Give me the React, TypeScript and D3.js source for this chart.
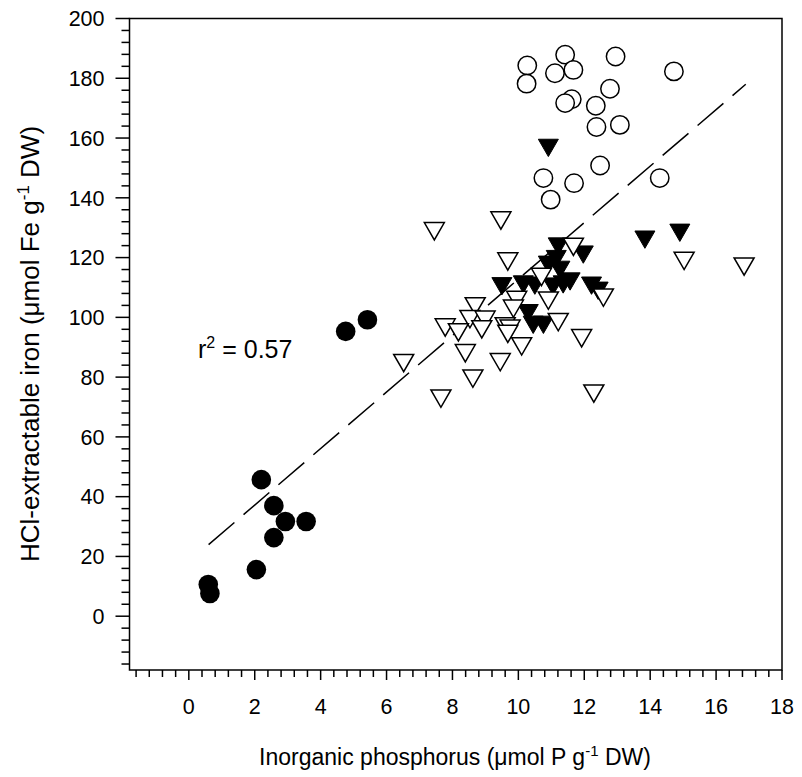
import React from 'react';
import * as d3 from 'd3';

// Inorganic P (x) vs HCl-extractable Fe (y)
const filledCircles: [number, number][] = [
  [0.59, 10.6], [0.64, 7.6], [2.05, 15.6], [2.2, 45.7], [2.58, 37.0],
  [2.93, 31.7], [3.56, 31.7], [2.58, 26.3], [4.76, 95.3], [5.42, 99.2],
];

const openCircles: [number, number][] = [
  [10.27, 184.3], [10.25, 178.2], [11.42, 187.9], [11.11, 181.7], [11.67, 182.8],
  [12.95, 187.3], [14.72, 182.3], [11.62, 173.0], [11.42, 171.7], [12.78, 176.5],
  [12.35, 170.8], [12.37, 163.7], [13.08, 164.4], [12.48, 150.8], [10.76, 146.6],
  [11.69, 144.9], [10.98, 139.4], [14.29, 146.6],
];

const filledTriangles: [number, number][] = [
  [10.91, 156.7], [13.84, 126.0], [14.9, 128.3],
  [11.21, 123.7], [11.15, 119.5], [11.97, 121.0], [10.91, 117.6], [11.26, 115.9],
  [11.57, 112.0], [11.36, 111.0], [11.05, 110.3], [10.5, 110.6], [10.15, 111.0],
  [9.5, 110.4], [12.22, 110.6], [12.42, 108.9], [10.3, 101.4], [10.45, 97.5],
  [10.76, 97.5],
];

const openTriangles: [number, number][] = [
  [7.45, 128.8], [9.47, 132.4], [9.68, 118.7], [11.67, 123.6], [10.7, 113.5],
  [12.58, 106.6], [10.91, 105.6], [9.95, 105.8], [9.85, 102.9], [8.69, 103.7],
  [8.53, 99.4], [8.99, 99.2], [7.78, 96.6], [8.18, 95.0], [8.89, 96.0],
  [9.6, 97.0], [9.75, 96.2], [9.68, 94.5], [11.21, 98.4], [11.92, 93.0],
  [10.1, 90.3], [8.39, 88.0], [9.45, 85.0], [6.52, 84.7], [8.62, 79.5],
  [7.65, 72.8], [12.29, 74.5], [15.03, 118.9], [16.85, 117.0],
];

// linear fit
const fitIntercept = 18.3;
const fitSlope = 9.45;
const fitRange = [0.6, 16.9];
const rSquared = '0.57';

const xMajor = d3.range(0, 18.01, 2);
const xMinor = d3.range(-1.6, 17.7, 0.4).filter(v => Math.abs(v / 2 - Math.round(v / 2)) > 0.01);
const yMajor = d3.range(0, 201, 20);
const yMinor = d3.range(-16, 200, 4).filter(v => v % 20 !== 0);

const font = 'Arial, "Liberation Sans", sans-serif';

const App = () => {
  const width = 802;
  const height = 777;
  const left = 129.5, right = 782, top = 18.5, bottom = 670;

  const x = d3.scaleLinear().domain([-1.8, 18]).range([left, right]);
  const y = d3.scaleLinear().domain([-18, 200]).range([bottom, top]);

  const tri = (cx: number, cy: number) => {
    const w = 10, h = 8.66;
    return `M${cx - w},${cy - h}L${cx + w},${cy - h}L${cx},${cy + h}Z`;
  };

  const fitLine = d3.line<number>()
    .x(d => x(d))
    .y(d => y(fitIntercept + fitSlope * d));

  return (
    <svg width={width} height={height} style={{ position: 'absolute', left: 0, top: 0, background: '#fff' }}>
      <rect x={0} y={0} width={width} height={height} fill="#fff" />

      {/* frame */}
      <rect x={left} y={top} width={right - left} height={bottom - top} fill="none" stroke="#000" strokeWidth={1.5} />

      {/* y ticks */}
      {yMajor.map(v => (
        <g key={'ym' + v}>
          <line x1={left - 14} x2={left} y1={y(v)} y2={y(v)} stroke="#000" strokeWidth={1.5} />
          <text x={left - 25} y={y(v)} dy="0.36em" textAnchor="end" fontFamily={font} fontSize={21.5}>{v}</text>
        </g>
      ))}
      {yMinor.map(v => (
        <line key={'yn' + v} x1={left - 8} x2={left} y1={y(v)} y2={y(v)} stroke="#000" strokeWidth={1.5} />
      ))}

      {/* x ticks */}
      {xMajor.map(v => (
        <g key={'xm' + v}>
          <line x1={x(v)} x2={x(v)} y1={bottom} y2={bottom + 10} stroke="#000" strokeWidth={1.5} />
          <text x={x(v)} y={bottom + 44} textAnchor="middle" fontFamily={font} fontSize={21.5}>{v}</text>
        </g>
      ))}
      {xMinor.map(v => (
        <line key={'xn' + v.toFixed(1)} x1={x(v)} x2={x(v)} y1={bottom} y2={bottom + 7} stroke="#000" strokeWidth={1.5} />
      ))}

      {/* axis titles */}
      <text x={455} y={765} textAnchor="middle" fontFamily={font} fontSize={23}>
        Inorganic phosphorus (μmol P g<tspan dy={-9} fontSize={15}>-1</tspan><tspan dy={9}> DW)</tspan>
      </text>
      <text transform="translate(39,344) rotate(-90)" textAnchor="middle" fontFamily={font} fontSize={26}>
        HCl-extractable iron (μmol Fe g<tspan dy={-10} fontSize={17}>-1</tspan><tspan dy={10}> DW)</tspan>
      </text>

      {/* regression */}
      <path d={fitLine(fitRange) || ''} fill="none" stroke="#000" strokeWidth={1.5} strokeDasharray="34 12" />

      <text x={198} y={358} fontFamily={font} fontSize={25}>
        r<tspan dy={-10} fontSize={16}>2</tspan><tspan dy={10}> = {rSquared}</tspan>
      </text>

      {/* symbols */}
      {filledCircles.map((d, i) => (
        <circle key={'fc' + i} cx={x(d[0])} cy={y(d[1])} r={9.8} fill="#000" />
      ))}
      {openCircles.map((d, i) => (
        <circle key={'oc' + i} cx={x(d[0])} cy={y(d[1])} r={9.2} fill="#fff" stroke="#000" strokeWidth={1.5} />
      ))}
      {filledTriangles.map((d, i) => (
        <path key={'ft' + i} d={tri(x(d[0]), y(d[1]))} fill="#000" stroke="#000" strokeWidth={1} />
      ))}
      {openTriangles.map((d, i) => (
        <path key={'ot' + i} d={tri(x(d[0]), y(d[1]))} fill="#fff" stroke="#000" strokeWidth={1.5} />
      ))}
    </svg>
  );
};

export default App;
